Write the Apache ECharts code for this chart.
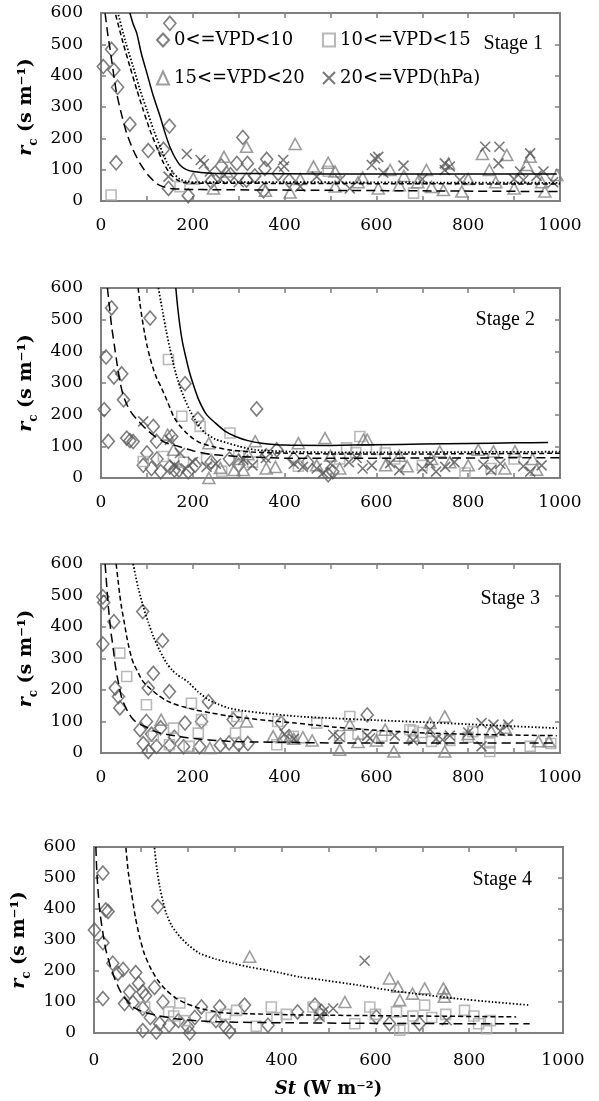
<!DOCTYPE html>
<html><head><meta charset="utf-8">
<script src="https://cdn.jsdelivr.net/npm/echarts/dist/echarts.min.js"></script>
<style>html,body{margin:0;padding:0;background:#fff}#c{width:599px;height:1101px;background:#fff}#err{position:absolute;left:0;top:1040px;width:599px;font:10px monospace;color:red;white-space:pre-wrap}</style>
</head><body><div id="c"></div><div id="err"></div>
<script>
window.onerror = function (m, s, l, c, e) { document.getElementById('err').textContent += 'ERR ' + m + ' ' + l + ':' + c + '\n'; };
// ---------- data ----------
const classNames = ['0<=VPD<10', '10<=VPD<15', '15<=VPD<20', '20<=VPD(hPa)'];
const stageLabels = ['Stage 1', 'Stage 2', 'Stage 3', 'Stage 4'];
const xLabelValues = [0, 200, 400, 600, 800, 1000];
const yLabelValues = [0, 100, 200, 300, 400, 500, 600];

// Stage 1 observations [St, rc]
const s1Diamond = [[5,429],[23,484],[28,418],[36,363],[63,245],[33,122],[103,161],[136,165],[149,239],[150,567],[147,40],[190,17],[309,203],[296,120],[319,120],[317,67],[361,133],[357,104],[354,33],[386,88],[262,112],[282,84],[240,62],[335,80],[410,65]];
const s1Square = [[22,19],[172,46],[495,95],[681,25]];
const s1Triangle = [[201,72],[245,40],[268,141],[274,94],[317,173],[358,33],[412,27],[423,182],[463,110],[495,122],[510,94],[510,46],[434,70],[560,60],[604,40],[630,99],[650,50],[709,99],[690,60],[746,35],[757,120],[786,30],[800,70],[831,150],[846,99],[860,60],[884,147],[900,40],[927,115],[935,141],[967,30],[993,83],[960,60],[570,75],[660,80],[720,45]];
const s1Cross = [[147,78],[187,150],[217,131],[224,118],[237,94],[260,70],[300,60],[397,131],[399,110],[434,46],[470,78],[521,67],[542,40],[590,115],[597,136],[604,141],[615,90],[659,113],[700,70],[749,120],[760,110],[749,99],[782,67],[837,173],[866,120],[868,173],[900,70],[913,94],[920,67],[935,152],[949,80],[964,94],[985,60]];

// Stage 2 observations
const s2Diamond = [[7,216],[11,382],[23,537],[28,319],[45,329],[49,247],[16,116],[56,126],[63,118],[70,115],[107,505],[183,298],[211,186],[339,218],[114,163],[121,116],[100,79],[154,131],[122,60],[92,40],[110,30],[130,20],[150,35],[160,25],[170,25],[190,20],[205,40],[240,50],[280,60],[300,40],[383,89],[360,70],[420,60],[450,50],[495,10],[505,20]];
const s2Square = [[147,374],[176,195],[216,163],[281,142],[92,52],[136,68],[263,21],[430,37],[564,131],[535,95],[555,80],[619,79],[793,16],[640,60],[520,60],[180,50],[230,60],[300,70],[330,50],[600,90],[700,40],[850,30],[900,60]];
const s2Triangle = [[235,0],[145,137],[158,89],[336,116],[235,110],[260,32],[300,60],[320,75],[290,25],[310,25],[360,30],[380,35],[430,110],[488,126],[572,121],[580,121],[500,70],[470,40],[520,30],[620,40],[667,37],[720,60],[738,84],[760,50],[822,89],[855,84],[902,84],[949,26],[800,40],[880,30],[940,60],[650,70]];
const s2Cross = [[92,179],[150,120],[172,79],[160,40],[185,30],[200,50],[230,35],[250,45],[310,58],[330,40],[359,63],[420,45],[440,35],[470,30],[484,16],[500,45],[540,50],[557,63],[570,30],[590,40],[630,47],[650,25],[700,30],[717,47],[730,20],[750,35],[770,50],[833,42],[850,25],[870,45],[920,37],[935,20],[960,40]];

// Stage 3 observations
const s3Diamond = [[4,496],[6,478],[4,346],[28,417],[91,449],[134,357],[114,253],[103,206],[149,195],[31,206],[38,179],[41,143],[234,163],[85,74],[99,100],[183,95],[219,100],[288,106],[393,95],[103,5],[92,30],[121,21],[150,25],[180,20],[215,20],[260,25],[279,32],[300,28],[320,30],[580,121],[110,60],[130,80],[160,50]];
const s3Square = [[41,317],[56,243],[99,153],[197,158],[114,53],[158,79],[212,63],[293,63],[385,100],[149,26],[192,21],[383,26],[419,53],[219,106],[296,116],[470,95],[542,116],[612,53],[673,74],[680,70],[720,37],[760,40],[810,68],[847,32],[847,5],[935,21],[560,60],[520,55],[700,65],[800,50],[980,30]];
const s3Triangle = [[131,106],[317,100],[237,16],[375,53],[395,50],[420,45],[440,50],[412,53],[520,10],[542,90],[619,74],[638,5],[717,95],[749,116],[749,5],[953,37],[976,37],[800,60],[850,70],[880,80],[600,40],[680,55],[560,35],[460,40]];
const s3Cross = [[400,60],[420,45],[506,58],[520,50],[586,47],[640,55],[717,74],[730,45],[744,42],[760,55],[829,95],[829,21],[855,90],[887,90],[870,70],[800,65],[580,55],[680,40]];

// Stage 4 observations
const s4Diamond = [[19,516],[25,397],[30,392],[1,332],[19,291],[136,408],[40,225],[51,192],[62,205],[89,195],[19,111],[65,95],[76,133],[83,98],[104,133],[129,147],[147,100],[104,79],[120,50],[140,30],[133,3],[104,8],[160,25],[180,40],[204,0],[200,20],[215,50],[229,84],[268,84],[321,90],[289,5],[280,20],[260,40],[371,25],[434,68],[471,90],[485,70],[602,52],[630,30],[694,30],[110,120],[95,160]];
const s4Square = [[108,84],[159,68],[183,97],[194,40],[170,55],[304,73],[346,22],[378,84],[390,50],[410,60],[467,84],[480,60],[556,30],[588,84],[600,60],[645,68],[652,9],[660,15],[680,55],[705,90],[720,50],[750,60],[790,73],[810,55],[837,14],[820,30],[845,40],[250,50],[280,60]];
const s4Triangle = [[332,246],[535,100],[630,176],[648,149],[652,106],[679,127],[705,144],[745,144],[747,117],[750,130]];
const s4Cross = [[577,233],[481,52],[510,79],[752,41],[490,70]];

// fitted curves [St, rc]
const s1Solid = [[63,600],[70,565],[78,535],[88,470],[100,408],[114,335],[129,269],[140,215],[150,173],[160,142],[172,115],[185,101],[201,94],[225,90],[250,88],[400,87],[600,86],[800,86],[993,86]];
const s1Dotted = [[38,594],[54,505],[70,429],[85,355],[100,290],[115,225],[129,173],[143,125],[158,88],[172,70],[187,62],[210,60],[250,60],[400,60],[700,59],[1000,58]];
const s1Dash = [[32,594],[48,505],[63,429],[78,355],[92,290],[107,225],[121,173],[135,125],[150,88],[165,68],[179,59],[200,57],[250,57],[400,56],[700,55],[1000,54]];
const s1LongDash = [[9,599],[14,540],[20,482],[27,410],[34,344],[45,275],[56,216],[70,163],[85,120],[103,82],[121,56],[135,46],[150,40],[190,37],[250,36],[500,34],[750,32],[1000,30]];

const s2Solid = [[163,600],[167,540],[172,480],[178,425],[185,380],[192,338],[200,300],[212,250],[230,200],[249,174],[270,148],[293,131],[320,118],[350,110],[400,104],[500,103],[600,105],[700,107],[800,109],[900,111],[974,112]];
const s2Dotted = [[125,600],[130,560],[135,520],[142,465],[150,410],[157,365],[165,320],[174,280],[183,247],[194,212],[205,184],[216,160],[227,142],[250,122],[277,110],[300,100],[336,89],[400,84],[496,81],[600,81],[800,82],[1000,83]];
const s2Dash = [[81,600],[85,550],[90,500],[95,457],[100,420],[107,378],[115,340],[122,313],[130,290],[143,247],[158,195],[170,168],[183,147],[200,125],[218,110],[250,97],[277,89],[330,82],[387,79],[500,76],[700,76],[1000,78]];
const s2LongDash = [[14,600],[17,560],[20,520],[23,480],[27,440],[31,400],[35,360],[42,300],[48,262],[57,230],[67,205],[78,185],[89,168],[103,148],[118,131],[140,112],[168,100],[200,86],[241,74],[300,68],[387,63],[500,62],[700,63],[1000,64]];

const s3Dotted = [[70,600],[75,565],[80,530],[86,497],[92,465],[103,415],[114,370],[128,325],[143,285],[155,263],[165,250],[177,238],[190,225],[211,195],[234,169],[255,155],[277,143],[310,134],[350,127],[430,116],[510,110],[600,104],[717,97],[850,88],[993,79]];
const s3Dash = [[33,600],[37,550],[41,500],[45,460],[50,420],[56,370],[61,335],[67,300],[72,280],[78,264],[89,232],[99,215],[110,201],[124,184],[139,169],[157,157],[176,148],[205,137],[241,127],[275,118],[314,111],[370,102],[423,95],[470,88],[510,82],[600,72],[717,63],[850,58],[993,55]];
const s3LongDash = [[9,600],[11,560],[13,520],[16,465],[19,420],[22,380],[25,350],[27,327],[31,280],[35,245],[40,208],[45,175],[52,150],[60,127],[67,112],[75,100],[85,91],[96,84],[112,72],[130,63],[150,57],[168,53],[190,48],[220,43],[250,40],[277,37],[330,35],[400,34],[510,32],[700,32],[993,32]];

const s4Dotted = [[129,597],[134,530],[140,472],[147,425],[154,386],[166,345],[183,311],[200,285],[225,257],[260,238],[296,225],[330,213],[368,203],[400,193],[438,181],[488,171],[560,155],[630,138],[700,124],[773,111],[850,100],[929,90]];
const s4Dash = [[68,597],[73,520],[80,451],[88,375],[97,311],[107,257],[119,214],[135,172],[154,138],[175,112],[197,95],[225,80],[261,68],[290,64],[330,62],[450,58],[600,56],[750,54],[900,52]];
const s4LongDash = [[4,600],[6,520],[9,451],[13,385],[19,322],[25,270],[33,225],[43,180],[55,138],[68,108],[83,84],[105,68],[133,57],[170,47],[225,39],[300,35],[400,33],[600,31],[800,30],[929,30]];

// ---------- chart ----------
const panelObs = [
  [s1Diamond, s1Square, s1Triangle, s1Cross],
  [s2Diamond, s2Square, s2Triangle, s2Cross],
  [s3Diamond, s3Square, s3Triangle, s3Cross],
  [s4Diamond, s4Square, s4Triangle, s4Cross]
];
const panelCurves = [
  [[s1Solid, 'solid'], [s1Dotted, 'dotted'], [s1Dash, 'dash'], [s1LongDash, 'long']],
  [[s2Solid, 'solid'], [s2Dotted, 'dotted'], [s2Dash, 'dash'], [s2LongDash, 'long']],
  [[s3Dotted, 'dotted'], [s3Dash, 'dash'], [s3LongDash, 'long']],
  [[s4Dotted, 'dotted'], [s4Dash, 'dash'], [s4LongDash, 'long']]
];
const AX = '#7f7f7f';
const grids = [
  {left: 101, top: 13, width: 459, height: 188},
  {left: 101, top: 288, width: 459, height: 190},
  {left: 101, top: 564, width: 459, height: 189},
  {left: 94, top: 847, width: 469, height: 186}
];
const stagePos = [
  {right: 51, top: 29}, {right: 59, top: 305}, {right: 54, top: 584}, {right: 62, top: 865}
];
const xLabelMargin = [16, 16, 16, 19];
const FONT = 'DejaVu Serif';
const markerDefs = [
  {symbol: 'diamond', size: [12, 14], color: '#5c5c5c'},
  {symbol: 'rect', size: 10, color: '#a8a8a8'},
  {symbol: 'triangle', size: [12, 11], color: '#838383'},
  {symbol: 'path://M0,0L10,10M10,0L0,10', size: 10, color: '#555555'}
];
const dashTypes = {solid: 'solid', dotted: [1.5, 2], dash: [5, 3], long: [9, 5]};

function axisLineOpt() { return {show: true, onZero: false, lineStyle: {color: AX, width: 2}}; }
function axisTickOpt() { return {show: true, inside: true, length: 5, lineStyle: {color: AX, width: 1.5}}; }

const chart = echarts.init(document.getElementById('c'));

// pass 1: frames (grids with borders and the four axes of each panel)
const xAxes = [], yAxes = [];
grids.forEach((g, p) => {
  xAxes.push({type: 'value', gridIndex: p, min: 0, max: 1000, interval: 100, position: 'bottom',
    axisLine: axisLineOpt(), axisTick: axisTickOpt(), splitLine: {show: false},
    axisLabel: {margin: xLabelMargin[p], fontFamily: FONT, fontSize: 17, color: '#000',
      formatter: v => xLabelValues.indexOf(v) >= 0 ? String(v) : ''},
    name: p === 3 ? '{i|St}{n| (W m⁻²)}' : '', nameLocation: 'middle', nameGap: 47,
    nameTextStyle: {rich: {
      i: {fontFamily: FONT, fontWeight: 'bold', fontStyle: 'italic', fontSize: 18, color: '#000'},
      n: {fontFamily: FONT, fontWeight: 'bold', fontSize: 18, color: '#000'}}}});
  xAxes.push({type: 'value', gridIndex: p, min: 0, max: 1000, interval: 100, position: 'top',
    axisLine: axisLineOpt(), axisTick: axisTickOpt(), axisLabel: {show: false}, splitLine: {show: false}});
  yAxes.push({type: 'value', gridIndex: p, min: 0, max: 600, interval: 100, position: 'left',
    axisLine: axisLineOpt(), axisTick: axisTickOpt(), splitLine: {show: false},
    axisLabel: {margin: 18, fontFamily: FONT, fontSize: 17, color: '#000',
      formatter: v => yLabelValues.indexOf(v) >= 0 ? String(v) : ''},
    name: '{i|r}{s|c}{n| (s m⁻¹)}', nameLocation: 'middle', nameGap: 60, nameRotate: 90,
    nameTextStyle: {rich: {
      i: {fontFamily: FONT, fontWeight: 'bold', fontStyle: 'italic', fontSize: 19, lineHeight: 28, color: '#000'},
      s: {fontFamily: FONT, fontWeight: 'bold', fontSize: 12, lineHeight: 12, verticalAlign: 'bottom', color: '#000'},
      n: {fontFamily: FONT, fontWeight: 'bold', fontSize: 19, lineHeight: 28, color: '#000'}}}});
  yAxes.push({type: 'value', gridIndex: p, min: 0, max: 600, interval: 100, position: 'right',
    axisLine: axisLineOpt(), axisTick: axisTickOpt(), axisLabel: {show: false}, splitLine: {show: false}});
});

const series = [], titles = [];
grids.forEach((g, p) => {
  // anchor series for the mirrored top/right axes
  series.push({type: 'scatter', xAxisIndex: 2 * p + 1, yAxisIndex: 2 * p + 1, data: [], silent: true});
  panelObs[p].forEach((data, k) => {
    const m = markerDefs[k];
    series.push({type: 'scatter', name: classNames[k], xAxisIndex: 2 * p, yAxisIndex: 2 * p,
      data: data, symbol: m.symbol, symbolSize: m.size, z: 2,
      itemStyle: {color: 'rgba(0,0,0,0)', borderColor: m.color, borderWidth: 1.6}});
  });
  panelCurves[p].forEach(([data, kind]) => {
    series.push({type: 'line', xAxisIndex: 2 * p, yAxisIndex: 2 * p, data: data,
      showSymbol: false, smooth: 0.2, z: 5, silent: true,
      lineStyle: {color: '#000', width: kind === 'dotted' ? 1.8 : 1.5, type: dashTypes[kind]}});
  });
  titles.push({text: stageLabels[p], right: stagePos[p].right, top: stagePos[p].top,
    textStyle: {fontFamily: 'Liberation Serif', fontSize: 20, fontWeight: 'normal', color: '#000'}});
});

const legendText = {fontFamily: FONT, fontSize: 18, color: '#000'};
try {
  chart.setOption({
    animation: false,
    grid: grids.map(g => Object.assign({show: true, borderColor: AX, borderWidth: 2}, g)),
    xAxis: xAxes,
    yAxis: yAxes,
    title: titles,
    legend: [
      {left: 151, top: 26, orient: 'vertical', itemGap: 20, itemWidth: 12, itemHeight: 13,
       selectedMode: false, data: [classNames[0], classNames[2]], textStyle: legendText},
      {left: 317, top: 26, orient: 'vertical', itemGap: 20, itemWidth: 12, itemHeight: 13,
       selectedMode: false, data: [classNames[1], classNames[3]], textStyle: legendText}
    ],
    series: series
  });
} catch (e) {
  document.getElementById('err').textContent += 'CAUGHT ' + e.message + '\n' + (e.stack || '').slice(0, 300);
}
</script></body></html>
